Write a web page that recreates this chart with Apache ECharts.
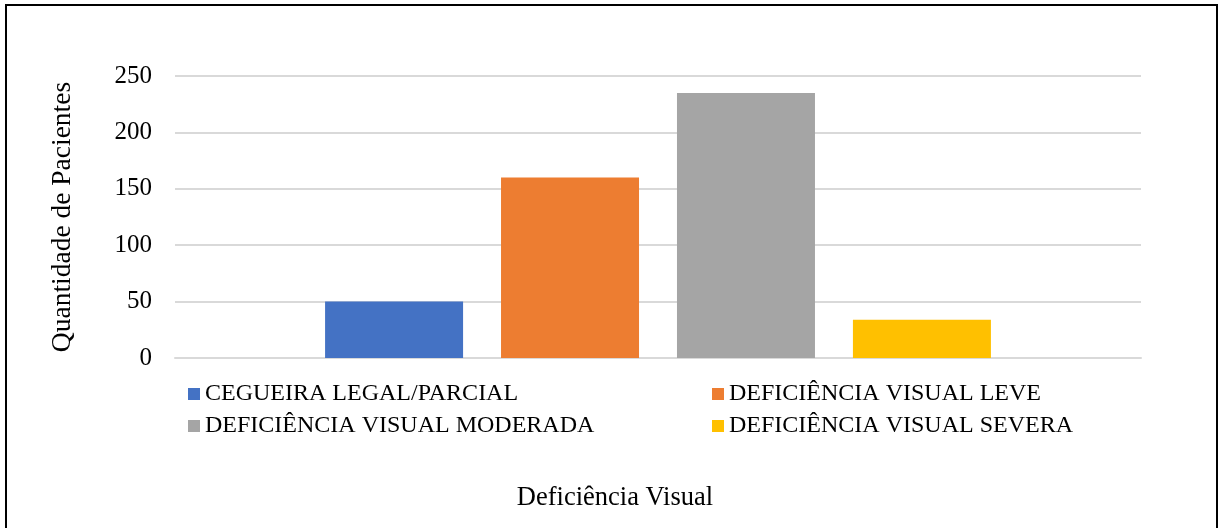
<!DOCTYPE html>
<html>
<head>
<meta charset="utf-8">
<script src="https://cdn.jsdelivr.net/npm/echarts@6/dist/echarts.min.js"></script>
<style>
  html, body { margin: 0; padding: 0; background: #fff; }
  #chart { width: 1219px; height: 528px; }
</style>
</head>
<body>
<div id="chart"></div>
<script>
// Patients by visual impairment class
const categories = ['Deficiência Visual'];
const seriesNames = [
  'CEGUEIRA LEGAL/PARCIAL',
  'DEFICIÊNCIA VISUAL LEVE',
  'DEFICIÊNCIA VISUAL MODERADA',
  'DEFICIÊNCIA VISUAL SEVERA'
];
const seriesValues = [50, 160, 235, 34];
const seriesColors = ['#4472C4', '#ED7D31', '#A5A5A5', '#FFC000'];
const yTicks = { min: 0, max: 250, interval: 50 };

const FONT = '"Liberation Serif", "Times New Roman", serif';

const chart = echarts.init(document.getElementById('chart'), null, { renderer: 'canvas' });

const legendText = { fontFamily: FONT, fontSize: 24, color: '#000' };

const option = {
  backgroundColor: '#fff',
  animation: false,
  title: {
    text: categories[0],
    left: 610,
    textAlign: 'center',
    top: 480,
    textStyle: { fontFamily: FONT, fontSize: 26.5, fontWeight: 'normal', color: '#000' }
  },
  grid: { left: 175, right: 78, top: 76, bottom: 170, containLabel: false },
  legend: [
    {
      data: [seriesNames[0], seriesNames[2]],
      orient: 'vertical',
      left: 188,
      top: 382,
      itemWidth: 12,
      itemHeight: 12,
      itemGap: 8,
      padding: 0,
      icon: 'rect',
      textStyle: legendText
    },
    {
      data: [seriesNames[1], seriesNames[3]],
      orient: 'vertical',
      left: 712,
      top: 382,
      itemWidth: 12,
      itemHeight: 12,
      itemGap: 8,
      padding: 0,
      icon: 'rect',
      textStyle: legendText
    }
  ],
  xAxis: {
    type: 'category',
    data: categories,
    axisLine: { show: true, lineStyle: { color: '#d9d9d9', width: 2 } },
    axisTick: { show: false },
    axisLabel: { show: false }
  },
  yAxis: {
    type: 'value',
    min: yTicks.min,
    max: yTicks.max,
    interval: yTicks.interval,
    name: 'Quantidade de Pacientes',
    nameLocation: 'middle',
    nameGap: 98,
    nameTextStyle: { fontFamily: FONT, fontSize: 27.5, color: '#000' },
    axisLine: { show: false },
    axisTick: { show: false },
    axisLabel: { fontFamily: FONT, fontSize: 25, color: '#000', margin: 23 },
    splitLine: { lineStyle: { color: '#d9d9d9', width: 2 } }
  },
  series: seriesNames.map((name, i) => ({
    name: name,
    type: 'bar',
    data: [seriesValues[i]],
    barWidth: 138,
    barGap: '27.5%',
    itemStyle: { color: seriesColors[i] }
  })),
  graphic: [
    {
      type: 'rect',
      shape: { x: 6, y: 5, width: 1211, height: 600 },
      style: { fill: 'none', stroke: '#000', lineWidth: 2 },
      silent: true
    }
  ]
};

chart.setOption(option);
</script>
</body>
</html>
